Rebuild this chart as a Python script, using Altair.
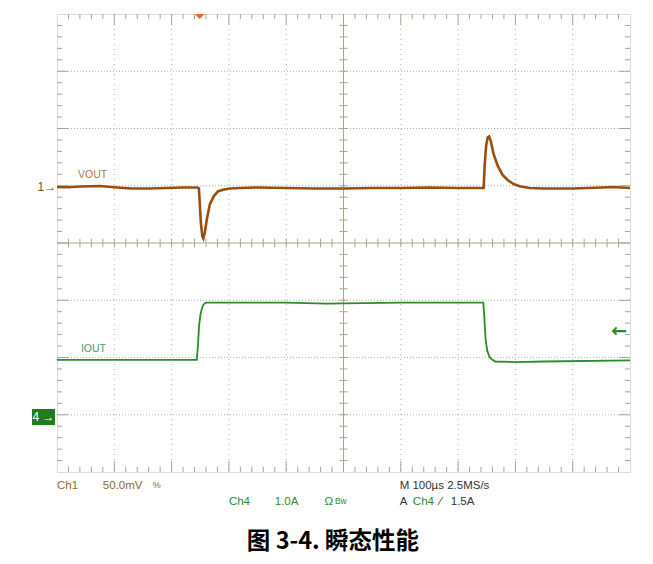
import altair as alt
import pandas as pd
import numpy as np

# ---- data (time in µs, 100 µs/div; screen 10 x 8 divisions) ----
vout_t = [0, 20, 40, 75, 100, 130, 160, 190, 220, 245, 247.6, 249.4, 251, 253.7, 255.4, 258, 261.6,
          266.8, 273.8, 280.7, 289.5, 301.7, 319, 350, 400, 450, 500, 550, 600, 650, 700, 744.6,
          746.3, 749, 751.6, 754.2, 756.8, 762, 769, 777.7, 786.4, 796.9, 807.3, 824.8, 850, 900,
          950, 970, 1000]
vout_mv = [0.4, 0.2, 0.9, 1.3, 0.2, -0.9, -0.9, -0.4, 0.0, 0.0, -0.5, -15.7, -30.6, -42.8, -44.5,
           -39.3, -27.5, -14.5, -7.5, -3.5, -2.0, -0.9, -0.4, 0.0, -0.4, -0.9, -0.9, -0.4, -0.4,
           0.0, -0.4, -0.4, 19.2, 36.7, 43.7, 44.5, 41.0, 29.0, 19.0, 11.0, 6.5, 3.0, 1.0, -0.4,
           -0.9, -0.9, 0.0, 0.4, -0.4]

iout_t = [0, 244, 246, 248, 250.5, 253, 256, 260, 400, 470, 600, 744, 746, 748, 751, 755, 760,
          765, 800, 850, 1000]
iout_a = [1.0, 1.0, 1.25, 1.6, 1.8, 1.9, 1.97, 2.0, 2.0, 1.98, 2.0, 2.0, 1.7, 1.35, 1.15, 1.05,
          1.0, 0.97, 0.96, 0.97, 0.99]

CH1_SCALE = 50.0   # mV/div
CH1_POS = 0.97     # div
CH4_SCALE = 1.0    # A/div
CH4_POS = -3.04    # div
TRIG_LEVEL = 1.5   # A
TRIG_TIME = 249    # µs

grid_x = [100, 200, 300, 400, 600, 700, 800, 900]
grid_y = [-3, -2, -1, 1, 2, 3]

BORDER = "#a6a68c"
DOT = "#b0b0a0"
BROWN = "#9a4d0c"
GREEN = "#2b8c2b"
FONT = "Liberation Sans"

xs = alt.Scale(domain=[0, 1000], nice=False, zero=False)
ys = alt.Scale(domain=[-4, 4], nice=False, zero=False)
X = lambda f="x": alt.X(f"{f}:Q", scale=xs, axis=None)
Y = lambda f="y": alt.Y(f"{f}:Q", scale=ys, axis=None)

vout = pd.DataFrame({"x": vout_t, "y": [CH1_POS + v / CH1_SCALE for v in vout_mv]})
iout = pd.DataFrame({"x": iout_t, "y": [CH4_POS + v / CH4_SCALE for v in iout_a]})

# tick segments on border and centre crosshair
segs = []
for t in range(20, 1000, 20):
    L = 0.19 if t % 100 == 0 else 0.09
    segs.append((t, 4, t, 4 - L))
    segs.append((t, -4, t, -4 + L))
    if t != 500:
        segs.append((t, -0.075, t, 0.075))
for k in range(-19, 20):
    yv = k / 5
    L = 19 if k % 5 == 0 else 8.7
    segs.append((0, yv, L, yv))
    segs.append((1000, yv, 1000 - L, yv))
    if k != 0:
        segs.append((493, yv, 507, yv))
ticks = pd.DataFrame(segs, columns=["x", "y", "x2", "y2"])

gx = alt.Chart(pd.DataFrame({"x": grid_x})).mark_rule(
    color=DOT, strokeDash=[1, 4], strokeWidth=1).encode(x=X())
gy = alt.Chart(pd.DataFrame({"y": grid_y})).mark_rule(
    color=DOT, strokeDash=[1, 2], strokeWidth=1).encode(y=Y())
cx = alt.Chart(pd.DataFrame({"x": [500]})).mark_rule(color=BORDER, strokeWidth=1).encode(x=X())
cy = alt.Chart(pd.DataFrame({"y": [0]})).mark_rule(color=BORDER, strokeWidth=1).encode(y=Y())
tk = alt.Chart(ticks).mark_rule(color=BORDER, strokeWidth=1).encode(
    x=X(), y=Y(), x2="x2:Q", y2="y2:Q")

l_v = alt.Chart(vout).mark_line(color=BROWN, strokeWidth=2.6).encode(x=X(), y=Y())
l_i = alt.Chart(iout).mark_line(color=GREEN, strokeWidth=1.8).encode(x=X(), y=Y())

trig = alt.Chart(pd.DataFrame({"x": [TRIG_TIME], "y": [3.955]})).mark_point(
    shape="M-1,-0.5L1,-0.5L0,0.5Z", size=100, filled=True, color="#f26a2a", opacity=1
).encode(x=X(), y=Y())

ch4box = alt.Chart(pd.DataFrame({"x": [-43.6], "x2": [-3.5], "y": [CH4_POS - 0.14],
                                 "y2": [CH4_POS + 0.14]})).mark_rect(color="#1f7d1f").encode(
    x=X(), x2="x2:Q", y=Y(), y2="y2:Q")

texts = pd.DataFrame([
    # x, y, text, color, size, align, weight, font
    (-1.5, CH1_POS, "1→", "#7a5020", 12, "right", "normal", FONT),
    (-23.5, CH4_POS, "4 →", "white", 12, "center", "normal", FONT),
    (981, CH4_POS + TRIG_LEVEL / CH4_SCALE, "←", GREEN, 19, "center", "bold", "DejaVu Sans"),
    (36.6, 1.19, "VOUT", "#b07a3a", 10.5, "left", "normal", FONT),
    (41.8, -1.85, "IOUT", "#3d9b6e", 10.5, "left", "normal", FONT),
    (0, -4.24, "Ch1", "#8b6a2b", 11.5, "left", "normal", FONT),
    (80, -4.24, "50.0mV", "#8b6a2b", 11.5, "left", "normal", FONT),
    (167, -4.22, "%", "#8b6a2b", 9, "left", "normal", FONT),
    (598, -4.24, "M 100µs 2.5MS/s", "#333333", 11.5, "left", "normal", FONT),
    (300, -4.52, "Ch4", GREEN, 11.5, "left", "normal", FONT),
    (380, -4.52, "1.0A", GREEN, 11.5, "left", "normal", FONT),
    (467, -4.52, "Ω", GREEN, 11.5, "left", "normal", FONT),
    (485, -4.50, "Bw", GREEN, 8.5, "left", "normal", FONT),
    (598, -4.52, "A", "#333333", 11.5, "left", "normal", FONT),
    (621, -4.52, "Ch4", GREEN, 11.5, "left", "normal", FONT),
    (668, -4.52, "⁄", "#333333", 11.5, "left", "normal", FONT),
    (687, -4.52, "1.5A", "#333333", 11.5, "left", "normal", FONT),
    (481.6, -5.23, "图 3-4. 瞬态性能", "#000000", 23.5, "center", "bold", "Noto Sans CJK SC"),
], columns=["x", "y", "text", "color", "size", "align", "weight", "font"])

text_layers = []
for _, r in texts.iterrows():
    text_layers.append(
        alt.Chart(pd.DataFrame([r])).mark_text(
            align=r["align"], baseline="middle", fontSize=float(r["size"]), color=r["color"],
            fontWeight=r["weight"], font=r["font"]
        ).encode(x=X(), y=Y(), text="text:N")
    )

chart = alt.layer(gx, gy, cx, cy, tk, l_v, l_i, trig, ch4box, *text_layers).properties(
    width=573, height=458,
    padding={"left": 49, "top": 6, "right": 15, "bottom": 84},
    autosize=alt.AutoSizeParams(type="none"),
).configure_view(stroke=BORDER, strokeWidth=1.5).configure(background="white")

chart.save("out.html", embed_options={"renderer": "svg", "actions": False})
